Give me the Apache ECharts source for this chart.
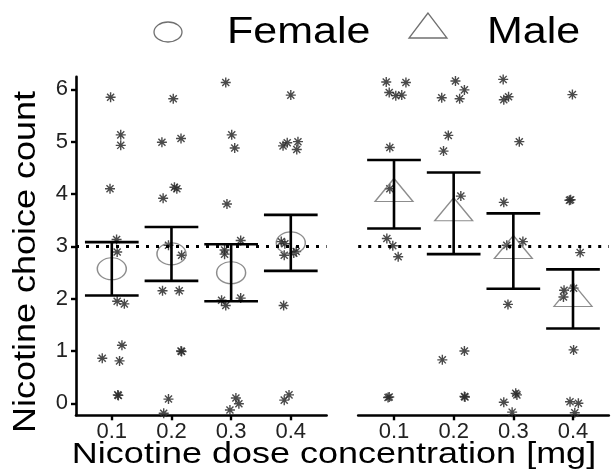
<!DOCTYPE html>
<html>
<head>
<meta charset="utf-8">
<script src="https://cdn.jsdelivr.net/npm/echarts@6/dist/echarts.min.js"></script>
<style>
html,body{margin:0;padding:0;background:#fff;}
#c{width:616px;height:470px;}
</style>
</head>
<body>
<div id="c"></div>
<script>
// ---------- data ----------
const doseLabels = ['0.1', '0.2', '0.3', '0.4'];
const doseTickPositions = [1, 2, 3, 4];
const yTickValues = [0, 1, 2, 3, 4, 5, 6];
const referenceLevel = 3;
const groupNames = ['Female', 'Male'];

// jittered individual observations: [x position (dose index + jitter), choice count + jitter]
const femalePoints = [
  [0.98, 5.85], [1.15, 5.13], [1.15, 4.93], [0.97, 4.10], [1.08, 3.13], [1.09, 2.89],
  [1.09, 1.95], [1.21, 1.90], [1.17, 1.11], [0.84, 0.86], [1.13, 0.81], [1.10, 0.16], [1.11, 0.15],
  [2.03, 5.82], [1.84, 4.99], [2.16, 5.06], [2.05, 4.13], [2.09, 4.10], [1.86, 3.92], [1.95, 3.02],
  [2.17, 2.83], [1.85, 2.15], [2.13, 2.15], [2.17, 0.99], [2.16, 1.00], [1.95, 0.08], [1.87, -0.19],
  [2.91, 6.13], [3.01, 5.13], [3.06, 4.88], [2.93, 3.81], [3.16, 3.11], [2.89, 2.93], [2.89, 2.85],
  [2.84, 1.97], [2.91, 1.87], [3.16, 2.01], [3.08, 0.10], [3.13, -0.01], [2.98, -0.13],
  [4.00, 5.89], [3.87, 4.92], [3.94, 4.98], [4.12, 5.00], [4.10, 4.85], [3.84, 3.09], [3.90, 3.05],
  [3.89, 2.83], [4.05, 2.87], [4.09, 2.90], [3.88, 1.87], [3.97, 0.16], [3.89, 0.06]
];
const malePoints = [
  [0.87, 6.14], [1.20, 6.13], [0.92, 5.94], [1.03, 5.88], [1.13, 5.89], [0.93, 4.89], [0.93, 4.10],
  [0.88, 3.15], [0.98, 3.01], [1.07, 2.80], [0.90, 0.11], [0.92, 0.12],
  [2.03, 6.16], [2.18, 5.99], [1.80, 5.84], [2.10, 5.82], [1.91, 5.12], [1.83, 4.82], [2.12, 3.96],
  [2.18, 1.00], [1.81, 0.83], [2.18, 0.13], [2.19, 0.12],
  [2.83, 6.19], [2.92, 5.86], [2.84, 5.80], [3.10, 5.00], [2.84, 3.84], [2.89, 3.02], [3.16, 3.09],
  [2.91, 1.89], [3.06, 0.16], [3.04, 0.19], [2.84, 0.02], [2.98, -0.17],
  [3.99, 5.90], [3.94, 3.88], [3.96, 3.89], [4.12, 2.88], [3.85, 2.16], [3.84, 2.03], [4.01, 2.20],
  [4.01, 1.02], [3.95, 0.03], [4.09, 0.00], [4.03, -0.18]
];

// means and error bar limits per dose
const femaleMean = [2.57, 2.855, 2.495, 3.065];
const femaleLow  = [2.06, 2.34, 1.95, 2.53];
const femaleHigh = [3.08, 3.37, 3.04, 3.60];
const maleMean = [4.00, 3.63, 2.91, 1.995];
const maleLow  = [3.34, 2.85, 2.19, 1.43];
const maleHigh = [4.65, 4.41, 3.63, 2.56];

// ---------- helpers ----------
function asteriskPath() {
  const c = 50, L = 50, w = 7;
  let d = '';
  [0, 45, 90, 135].forEach(function (deg) {
    const a = deg * Math.PI / 180;
    const dx = Math.cos(a), dy = Math.sin(a);
    const nx = -dy, ny = dx;
    const p = [
      [c - L * dx - w * nx, c - L * dy - w * ny],
      [c + L * dx - w * nx, c + L * dy - w * ny],
      [c + L * dx + w * nx, c + L * dy + w * ny],
      [c - L * dx + w * nx, c - L * dy + w * ny]
    ].map(function (q) { return q[0].toFixed(2) + ' ' + q[1].toFixed(2); });
    d += 'M' + p[0] + 'L' + p[1] + 'L' + p[2] + 'L' + p[3] + 'Z';
  });
  return 'path://' + d;
}
const STAR = asteriskPath();

function meanData(means) {
  return means.map(function (m, i) { return [doseTickPositions[i], m]; });
}
function errData(low, high) {
  return low.map(function (l, i) { return [doseTickPositions[i], l, high[i]]; });
}
function renderErr(params, api) {
  const x = api.value(0), lo = api.value(1), hi = api.value(2);
  const pLo = api.coord([x, lo]);
  const pHi = api.coord([x, hi]);
  const half = api.size([0.9, 0])[0] / 2;
  const st = { stroke: '#000', lineWidth: 2.6, fill: null };
  return {
    type: 'group',
    children: [
      { type: 'line', shape: { x1: pLo[0], y1: pLo[1], x2: pHi[0], y2: pHi[1] }, style: st },
      { type: 'line', shape: { x1: pLo[0] - half, y1: pLo[1], x2: pLo[0] + half, y2: pLo[1] }, style: st },
      { type: 'line', shape: { x1: pHi[0] - half, y1: pHi[1], x2: pHi[0] + half, y2: pHi[1] }, style: st }
    ]
  };
}

const FONT = '"Liberation Sans", Arial, Helvetica, sans-serif';
const gridTop = 76.8, gridH = 338.5, gridW = 250.6;

function xAxisDef(i) {
  return {
    gridIndex: i, type: 'value', min: 0.4, max: 4.6,
    splitLine: { show: false },
    axisLine: { show: true, onZero: false, lineStyle: { color: '#000', width: 2.6 } },
    axisTick: { show: true, customValues: doseTickPositions, length: 5, lineStyle: { color: '#000', width: 2.4 } },
    axisLabel: {
      customValues: doseTickPositions,
      formatter: function (v) { return doseLabels[Math.round(v) - 1]; },
      fontFamily: FONT, fontSize: 22, color: '#222', margin: 6
    }
  };
}
function yAxisDef(i) {
  return {
    gridIndex: i, type: 'value', min: -0.23, max: 6.24, show: i === 0,
    splitLine: { show: false },
    axisLine: { show: true, onZero: false, lineStyle: { color: '#000', width: 2.6 } },
    axisTick: { show: true, customValues: yTickValues, length: 5, lineStyle: { color: '#000', width: 2.4 } },
    axisLabel: { customValues: yTickValues, fontFamily: FONT, fontSize: 22, color: '#222', margin: 8 }
  };
}

function pointSeries(data, idx) {
  return {
    type: 'scatter', xAxisIndex: idx, yAxisIndex: idx, data: data,
    symbol: STAR, symbolSize: 10, z: 2,
    itemStyle: { color: '#2a2a2a', opacity: 0.85 },
    markLine: {
      silent: true, symbol: ['none', 'none'], label: { show: false },
      lineStyle: { color: '#000', type: [3, 7], width: 3 },
      emphasis: { disabled: true },
      data: [{ yAxis: referenceLevel }]
    }
  };
}

const option = {
  animation: false,
  backgroundColor: '#fff',
  grid: [
    { left: 76, top: gridTop, width: gridW, height: gridH },
    { left: 358.2, top: gridTop, width: gridW, height: gridH }
  ],
  xAxis: [xAxisDef(0), xAxisDef(1)],
  yAxis: [yAxisDef(0), yAxisDef(1)],
  series: [
    pointSeries(femalePoints, 0),
    pointSeries(malePoints, 1),
    {
      name: groupNames[0], type: 'scatter', xAxisIndex: 0, yAxisIndex: 0, z: 3,
      data: meanData(femaleMean), symbol: 'circle', symbolSize: [29, 22],
      itemStyle: { color: 'rgba(0,0,0,0)', borderColor: '#707070', borderWidth: 1.3 }
    },
    {
      name: groupNames[1], type: 'scatter', xAxisIndex: 1, yAxisIndex: 1, z: 3,
      data: meanData(maleMean), symbol: 'triangle', symbolSize: [38, 23], symbolOffset: [0, -4],
      itemStyle: { color: 'rgba(0,0,0,0)', borderColor: '#707070', borderWidth: 1.3 }
    },
    { type: 'custom', xAxisIndex: 0, yAxisIndex: 0, z: 4, data: errData(femaleLow, femaleHigh), renderItem: renderErr },
    { type: 'custom', xAxisIndex: 1, yAxisIndex: 1, z: 4, data: errData(maleLow, maleHigh), renderItem: renderErr }
  ],
  graphic: [
    { type: 'ellipse', shape: { cx: 168, cy: 32, rx: 14, ry: 10 }, style: { fill: null, stroke: '#707070', lineWidth: 1.3 } },
    { type: 'text', x: 227, y: 33, scaleY: 0.85, originY: 0,
      style: { text: groupNames[0], font: '43px ' + FONT, fill: '#000', textAlign: 'left', textVerticalAlign: 'middle' } },
    { type: 'polygon', shape: { points: [[428, 13], [409, 38], [447, 38]] }, style: { fill: null, stroke: '#707070', lineWidth: 1.3 } },
    { type: 'text', x: 487, y: 33, scaleY: 0.85, originY: 0,
      style: { text: groupNames[1], font: '43px ' + FONT, fill: '#000', textAlign: 'left', textVerticalAlign: 'middle' } },
    { type: 'text', x: 334, y: 455, scaleY: 0.8, originY: 0,
      style: { text: 'Nicotine dose concentration [mg]', font: '36px ' + FONT, fill: '#000', textAlign: 'center', textVerticalAlign: 'middle' } },
    { type: 'text', x: 27, y: 262, rotation: Math.PI / 2, scaleY: 0.85,
      style: { text: 'Nicotine choice count', font: '36px ' + FONT, fill: '#000', textAlign: 'center', textVerticalAlign: 'middle' } }
  ]
};

const chart = echarts.init(document.getElementById('c'));
chart.setOption(option);
</script>
</body>
</html>
